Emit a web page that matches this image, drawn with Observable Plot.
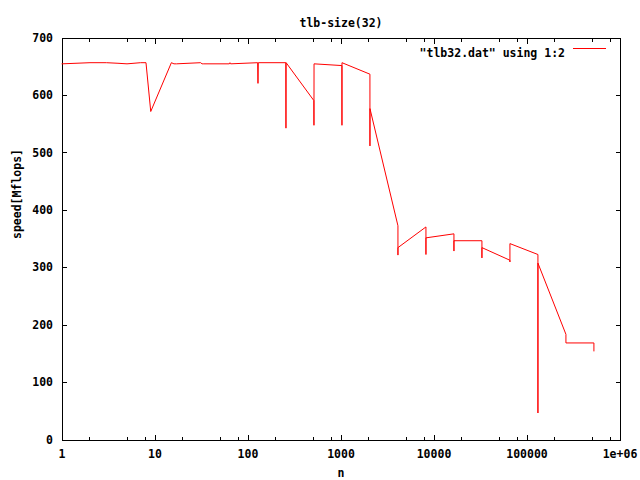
<!DOCTYPE html>
<html>
<head>
<meta charset="utf-8">
<script src="https://cdn.jsdelivr.net/npm/d3@7"></script>
<script src="https://cdn.jsdelivr.net/npm/@observablehq/plot@0.6"></script>
<style>
  html, body { margin: 0; padding: 0; background: #fff; }
  #chart svg { display: block; }
  #chart svg [aria-label$="tick"], #chart svg [aria-label="frame"] { shape-rendering: crispEdges; }
</style>
</head>
<body>
<div id="chart"></div>
<script>
// Problem size n (x) and measured speed in Mflops (y)
const sizes = [1, 2, 3, 4, 5, 7, 8, 9, 15, 16, 17, 31, 32, 33, 63, 64, 65,
  127, 128, 129, 255, 256, 257, 511, 512, 513, 1023, 1024, 1025,
  2047, 2048, 2049, 4095, 4096, 4097, 8191, 8192, 8193,
  16383, 16384, 16385, 32767, 32768, 32769, 65535, 65536, 65537,
  131071, 131072, 131073, 262143, 262144, 262145, 524287, 524288];
const speeds = [655, 657, 657, 656, 655, 657, 657, 572, 657, 655, 655, 657, 655, 655, 655, 657, 655,
  657, 621, 657, 657, 543, 657, 591, 548, 655, 652, 548, 657,
  637, 512, 577, 373, 322, 335, 371, 323, 352,
  359, 329, 347, 347, 317, 335, 313, 310, 342,
  323, 47, 308, 184, 169, 169, 169, 155];

const xMajorTicks = [1, 10, 100, 1000, 10000, 100000, 1000000];
const xMajorLabels = ["1", "10", "100", "1000", "10000", "100000", "1e+06"];
const xMinorTicks = [2, 5, 8, 20, 50, 80, 200, 500, 800, 2000, 5000, 8000,
  20000, 50000, 80000, 200000, 500000, 800000];
const yTicks = [0, 100, 200, 300, 400, 500, 600, 700];

const titleText = "tlb-size(32)";
const xLabelText = "n";
const yLabelText = "speed[Mflops]";
const legendText = "\"tlb32.dat\" using 1:2";

const data = sizes.map((n, i) => ({n, speed: speeds[i]}));
const red = "#ff0000";

const plot = Plot.plot({
  width: 640,
  height: 480,
  marginLeft: 61.5,
  marginRight: 20.5,
  marginTop: 37.5,
  marginBottom: 40.5,
  style: {
    fontFamily: "'DejaVu Sans Mono', monospace",
    fontSize: "11.5px",
    fontWeight: "bold",
    background: "#fff",
    color: "#000",
    overflow: "visible"
  },
  x: {type: "log", domain: [1, 1e6], label: null},
  y: {domain: [0, 700], label: null},
  marks: [
    // bottom axis: labels + inward major ticks
    Plot.axisX(xMajorTicks, {anchor: "bottom", tickSize: -5, tickPadding: 15, label: null,
      tickFormat: d => xMajorLabels[xMajorTicks.indexOf(d)]}),
    Plot.axisX(xMinorTicks, {anchor: "bottom", tickSize: -3, fill: "none", label: null}),
    // top mirrored ticks
    Plot.axisX(xMajorTicks, {anchor: "top", tickSize: -5, fill: "none", label: null}),
    Plot.axisX(xMinorTicks, {anchor: "top", tickSize: -3, fill: "none", label: null}),
    // left axis with labels, right mirrored ticks
    Plot.axisY(yTicks, {anchor: "left", tickSize: -5, tickPadding: 14, label: null,
      tickFormat: d => String(d)}),
    Plot.axisY(yTicks, {anchor: "right", tickSize: -5, fill: "none", label: null}),
    Plot.frame({stroke: "#000"}),
    // data
    Plot.line(data, {x: "n", y: "speed", stroke: red, strokeWidth: 1}),
    // title and axis labels
    Plot.text([titleText], {text: d => d, frameAnchor: "top", dy: -19.5}),
    Plot.text([xLabelText], {text: d => d, frameAnchor: "bottom", dy: 37}),
    Plot.text([yLabelText], {text: d => d, frameAnchor: "left", dx: -44.5, rotate: -90}),
    // legend
    Plot.text([legendText], {text: d => d, frameAnchor: "top-right", dx: -55, dy: 11, textAnchor: "end"})
  ]
});

// legend key line (red sample), placed beside the legend text
const svg = d3.select(plot);
svg.append("line")
  .attr("x1", 573).attr("x2", 606)
  .attr("y1", 48.5).attr("y2", 48.5)
  .attr("stroke", red).attr("stroke-width", 1)
  .attr("shape-rendering", "crispEdges");

document.getElementById("chart").appendChild(plot);
</script>
</body>
</html>
